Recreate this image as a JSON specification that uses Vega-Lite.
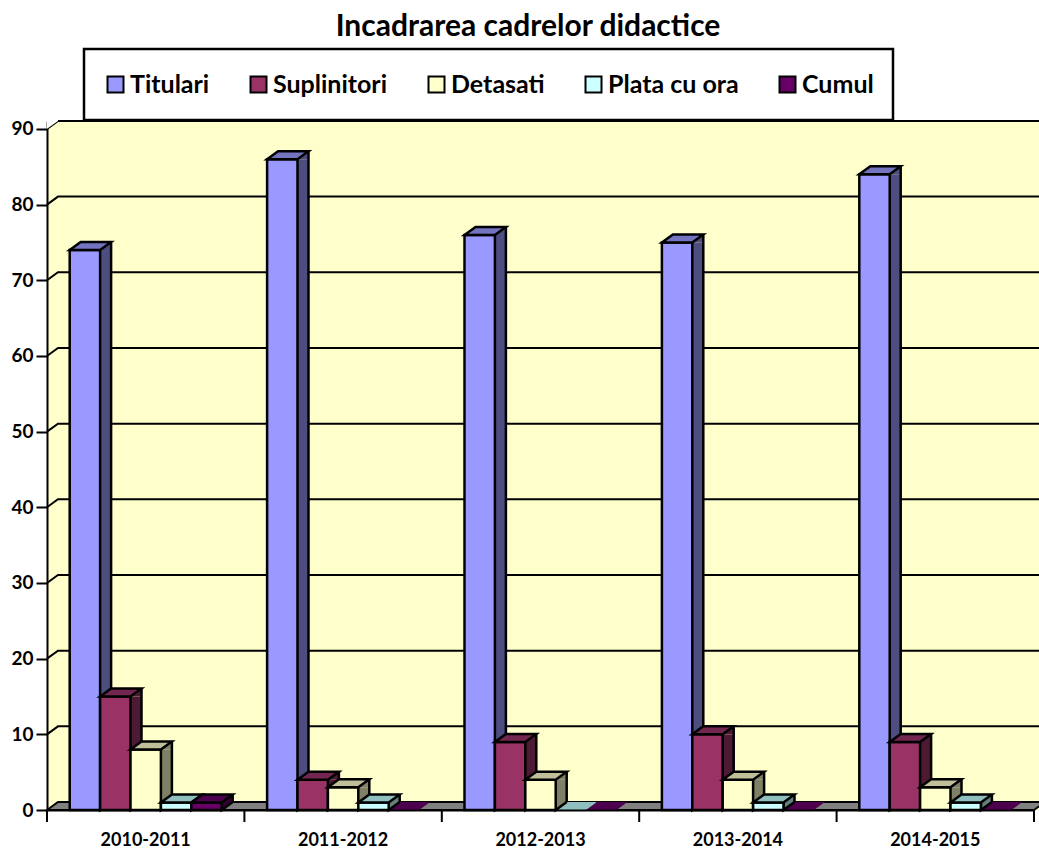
{"$schema":"https://vega.github.io/schema/vega-lite/v6.json","autosize":{"type":"none"},"padding":{"left":47,"top":121,"right":0,"bottom":39},"width":992,"height":689,"background":"white","title":{"text":"Incadrarea cadrelor didactice","font":"Lato","fontWeight":"bold","fontSize":30,"color":"black","anchor":"middle","frame":"group","dx":-15,"offset":6},"config":{"legend":{"strokeWidth":2.5},"view":{"fill":"#FFFFCC","stroke":null},"axis":{"grid":false,"title":null,"domainColor":"black","domainWidth":2,"tickColor":"black","tickWidth":2,"labelColor":"black","labelFont":"Lato","labelFontWeight":"bold"}},"datasets":{"rows":[{"an":"2010-2011","serie":"Titulari","valoare":74},{"an":"2010-2011","serie":"Suplinitori","valoare":15},{"an":"2010-2011","serie":"Detasati","valoare":8},{"an":"2010-2011","serie":"Plata cu ora","valoare":1},{"an":"2010-2011","serie":"Cumul","valoare":1},{"an":"2011-2012","serie":"Titulari","valoare":86},{"an":"2011-2012","serie":"Suplinitori","valoare":4},{"an":"2011-2012","serie":"Detasati","valoare":3},{"an":"2011-2012","serie":"Plata cu ora","valoare":1},{"an":"2011-2012","serie":"Cumul","valoare":0},{"an":"2012-2013","serie":"Titulari","valoare":76},{"an":"2012-2013","serie":"Suplinitori","valoare":9},{"an":"2012-2013","serie":"Detasati","valoare":4},{"an":"2012-2013","serie":"Plata cu ora","valoare":0},{"an":"2012-2013","serie":"Cumul","valoare":0},{"an":"2013-2014","serie":"Titulari","valoare":75},{"an":"2013-2014","serie":"Suplinitori","valoare":10},{"an":"2013-2014","serie":"Detasati","valoare":4},{"an":"2013-2014","serie":"Plata cu ora","valoare":1},{"an":"2013-2014","serie":"Cumul","valoare":0},{"an":"2014-2015","serie":"Titulari","valoare":84},{"an":"2014-2015","serie":"Suplinitori","valoare":9},{"an":"2014-2015","serie":"Detasati","valoare":3},{"an":"2014-2015","serie":"Plata cu ora","valoare":1},{"an":"2014-2015","serie":"Cumul","valoare":0}],"grila":[{"nivel":10},{"nivel":20},{"nivel":30},{"nivel":40},{"nivel":50},{"nivel":60},{"nivel":70},{"nivel":80},{"nivel":90}]},"resolve":{"scale":{"fill":"independent"}},"layer":[{"data":{"name":"grila"},"mark":{"type":"point","shape":"M-22.7 0L-11.7 -8L975 -8","size":4,"filled":false,"stroke":"black","strokeWidth":2,"opacity":1},"encoding":{"x":{"datum":"2010-2011","type":"nominal","bandPosition":0,"scale":{"domain":["2010-2011","2011-2012","2012-2013","2013-2014","2014-2015"],"range":[0,987],"paddingInner":0.23,"paddingOuter":0.115},"axis":{"ticks":false,"labelAngle":0,"labelFontSize":18,"labelPadding":21,"zindex":1}},"y":{"field":"nivel","type":"quantitative","scale":{"domain":[0,91.05],"nice":false},"axis":{"values":[0,10,20,30,40,50,60,70,80,90],"labelFontSize":19,"tickSize":11,"labelPadding":3}}}},{"data":{"values":[{"colt":90}]},"mark":{"type":"point","shape":"M-23 0L-23 -10L-11.7 -10L-11.7 -8Z","size":4,"filled":true,"fill":"white","stroke":"white","strokeWidth":0,"opacity":1},"encoding":{"x":{"datum":"2010-2011","type":"nominal","bandPosition":0},"y":{"field":"colt","type":"quantitative"}}},{"data":{"values":[{"podea":0}]},"mark":{"type":"point","shape":"M-22.7 0L-11.7 -8L975.3 -8L964.3 0ZM964.3 0L964.3 12","size":4,"filled":true,"fill":"#808080","stroke":"black","strokeWidth":2,"opacity":1},"encoding":{"x":{"datum":"2010-2011","type":"nominal","bandPosition":0},"y":{"field":"podea","type":"quantitative"}}},{"data":{"values":[{"an":"2010-2011","podea":0},{"an":"2011-2012","podea":0},{"an":"2012-2013","podea":0},{"an":"2013-2014","podea":0},{"an":"2014-2015","podea":0}]},"mark":{"type":"point","shape":"M-22.7 0L-22.7 12","size":4,"filled":false,"stroke":"black","strokeWidth":2,"opacity":1},"encoding":{"x":{"field":"an","type":"nominal","bandPosition":0},"y":{"field":"podea","type":"quantitative"}}},{"data":{"name":"rows"},"transform":[{"filter":"datum.valoare == 0"}],"mark":{"type":"point","shape":"M-15.2 0L15.2 0L26.2 -8L-4.2 -8Z","size":4,"filled":true,"strokeWidth":0,"opacity":1},"encoding":{"x":{"field":"an","type":"nominal"},"y":{"field":"valoare","type":"quantitative"},"xOffset":{"field":"serie","type":"nominal","scale":{"domain":["Titulari","Suplinitori","Detasati","Plata cu ora","Cumul"]}},"fill":{"field":"serie","type":"nominal","legend":null,"scale":{"domain":["Titulari","Suplinitori","Detasati","Plata cu ora","Cumul"],"range":["#7373BF","#732650","#BFBF99","#8FBFBF","#4D004D"]}}}},{"data":{"name":"rows"},"transform":[{"filter":"datum.serie == 'Titulari'"}],"mark":{"type":"bar","width":11,"xOffset":-40.1,"y2Offset":-8,"color":"#4D4D80"},"encoding":{"x":{"field":"an","type":"nominal"},"y":{"field":"valoare","type":"quantitative","stack":null},"y2":{"datum":0}}},{"data":{"name":"rows"},"transform":[{"filter":"datum.serie == 'Suplinitori'"}],"mark":{"type":"bar","width":11,"xOffset":-9.7,"y2Offset":-8,"color":"#4D1A33"},"encoding":{"x":{"field":"an","type":"nominal"},"y":{"field":"valoare","type":"quantitative","stack":null},"y2":{"datum":0}}},{"data":{"name":"rows"},"transform":[{"filter":"datum.serie == 'Detasati'"}],"mark":{"type":"bar","width":11,"xOffset":20.7,"y2Offset":-8,"color":"#808066"},"encoding":{"x":{"field":"an","type":"nominal"},"y":{"field":"valoare","type":"quantitative","stack":null},"y2":{"datum":0}}},{"data":{"name":"rows"},"transform":[{"filter":"datum.serie == 'Plata cu ora' && datum.valoare > 0"}],"mark":{"type":"bar","width":11,"xOffset":51.1,"y2Offset":-8,"color":"#668080"},"encoding":{"x":{"field":"an","type":"nominal"},"y":{"field":"valoare","type":"quantitative","stack":null},"y2":{"datum":0}}},{"data":{"name":"rows"},"transform":[{"filter":"datum.serie == 'Cumul' && datum.valoare > 0"}],"mark":{"type":"bar","width":11,"xOffset":81.5,"y2Offset":-8,"color":"#330033"},"encoding":{"x":{"field":"an","type":"nominal"},"y":{"field":"valoare","type":"quantitative","stack":null},"y2":{"datum":0}}},{"data":{"name":"rows"},"transform":[{"filter":"datum.valoare > 0"}],"mark":{"type":"point","shape":"M15.2 0L26.2 -8L26.2 0Z","size":4,"filled":true,"strokeWidth":0,"opacity":1},"encoding":{"x":{"field":"an","type":"nominal"},"y":{"field":"valoare","type":"quantitative"},"xOffset":{"field":"serie","type":"nominal"},"fill":{"field":"serie","type":"nominal","legend":null,"scale":{"domain":["Titulari","Suplinitori","Detasati","Plata cu ora","Cumul"],"range":["#4D4D80","#4D1A33","#808066","#668080","#330033"]}}}},{"data":{"name":"rows"},"transform":[{"filter":"datum.valoare > 0"}],"mark":{"type":"point","shape":"M15.2 -8L15.2 0L26.2 -8","size":4,"filled":true,"stroke":"black","strokeWidth":2.5,"opacity":1},"encoding":{"x":{"field":"an","type":"nominal"},"xOffset":{"field":"serie","type":"nominal"},"y":{"datum":0,"type":"quantitative"},"fill":{"field":"serie","type":"nominal","legend":null,"scale":{"domain":["Titulari","Suplinitori","Detasati","Plata cu ora","Cumul"],"range":["#4D4D80","#4D1A33","#808066","#668080","#330033"]}}}},{"data":{"name":"rows"},"transform":[{"filter":"datum.serie == 'Titulari'"}],"mark":{"type":"rule","color":"black","strokeWidth":2.5,"xOffset":-34.6,"yOffset":-8,"y2Offset":-8},"encoding":{"x":{"field":"an","type":"nominal"},"y":{"field":"valoare","type":"quantitative"},"y2":{"datum":0}}},{"data":{"name":"rows"},"transform":[{"filter":"datum.serie == 'Suplinitori'"}],"mark":{"type":"rule","color":"black","strokeWidth":2.5,"xOffset":-4.2,"yOffset":-8,"y2Offset":-8},"encoding":{"x":{"field":"an","type":"nominal"},"y":{"field":"valoare","type":"quantitative"},"y2":{"datum":0}}},{"data":{"name":"rows"},"transform":[{"filter":"datum.serie == 'Detasati'"}],"mark":{"type":"rule","color":"black","strokeWidth":2.5,"xOffset":26.2,"yOffset":-8,"y2Offset":-8},"encoding":{"x":{"field":"an","type":"nominal"},"y":{"field":"valoare","type":"quantitative"},"y2":{"datum":0}}},{"data":{"name":"rows"},"transform":[{"filter":"datum.serie == 'Plata cu ora' && datum.valoare > 0"}],"mark":{"type":"rule","color":"black","strokeWidth":2.5,"xOffset":56.6,"yOffset":-8,"y2Offset":-8},"encoding":{"x":{"field":"an","type":"nominal"},"y":{"field":"valoare","type":"quantitative"},"y2":{"datum":0}}},{"data":{"name":"rows"},"transform":[{"filter":"datum.serie == 'Cumul' && datum.valoare > 0"}],"mark":{"type":"rule","color":"black","strokeWidth":2.5,"xOffset":87,"yOffset":-8,"y2Offset":-8},"encoding":{"x":{"field":"an","type":"nominal"},"y":{"field":"valoare","type":"quantitative"},"y2":{"datum":0}}},{"data":{"name":"rows"},"transform":[{"filter":"datum.valoare > 0"}],"mark":{"type":"bar","stroke":"black","strokeWidth":2.5,"opacity":1},"encoding":{"x":{"field":"an","type":"nominal"},"y":{"field":"valoare","type":"quantitative","stack":null},"xOffset":{"field":"serie","type":"nominal"},"y2":{"datum":0},"fill":{"field":"serie","type":"nominal","title":null,"scale":{"domain":["Titulari","Suplinitori","Detasati","Plata cu ora","Cumul"],"range":["#9999FF","#993366","#FFFFCC","#CCFFFF","#660066"]},"legend":{"orient":"none","legendX":37,"legendY":-72,"direction":"horizontal","columns":5,"columnPadding":36,"symbolType":"square","symbolSize":256,"symbolStrokeColor":"black","symbolStrokeWidth":2,"labelFont":"Lato","labelFontWeight":"bold","labelFontSize":25,"labelColor":"black","labelOffset":2,"labelLimit":300,"padding":19,"clipHeight":33,"fillColor":"white","strokeColor":"black"}}}},{"data":{"name":"rows"},"transform":[{"filter":"datum.valoare > 0"}],"mark":{"type":"point","shape":"M-15.2 0L15.2 0L26.2 -8L-4.2 -8Z","size":4,"filled":true,"stroke":"black","strokeWidth":2.5,"opacity":1},"encoding":{"x":{"field":"an","type":"nominal"},"y":{"field":"valoare","type":"quantitative"},"xOffset":{"field":"serie","type":"nominal"},"fill":{"field":"serie","type":"nominal","legend":null,"scale":{"domain":["Titulari","Suplinitori","Detasati","Plata cu ora","Cumul"],"range":["#7373BF","#732650","#BFBF99","#8FBFBF","#4D004D"]}}}}]}
